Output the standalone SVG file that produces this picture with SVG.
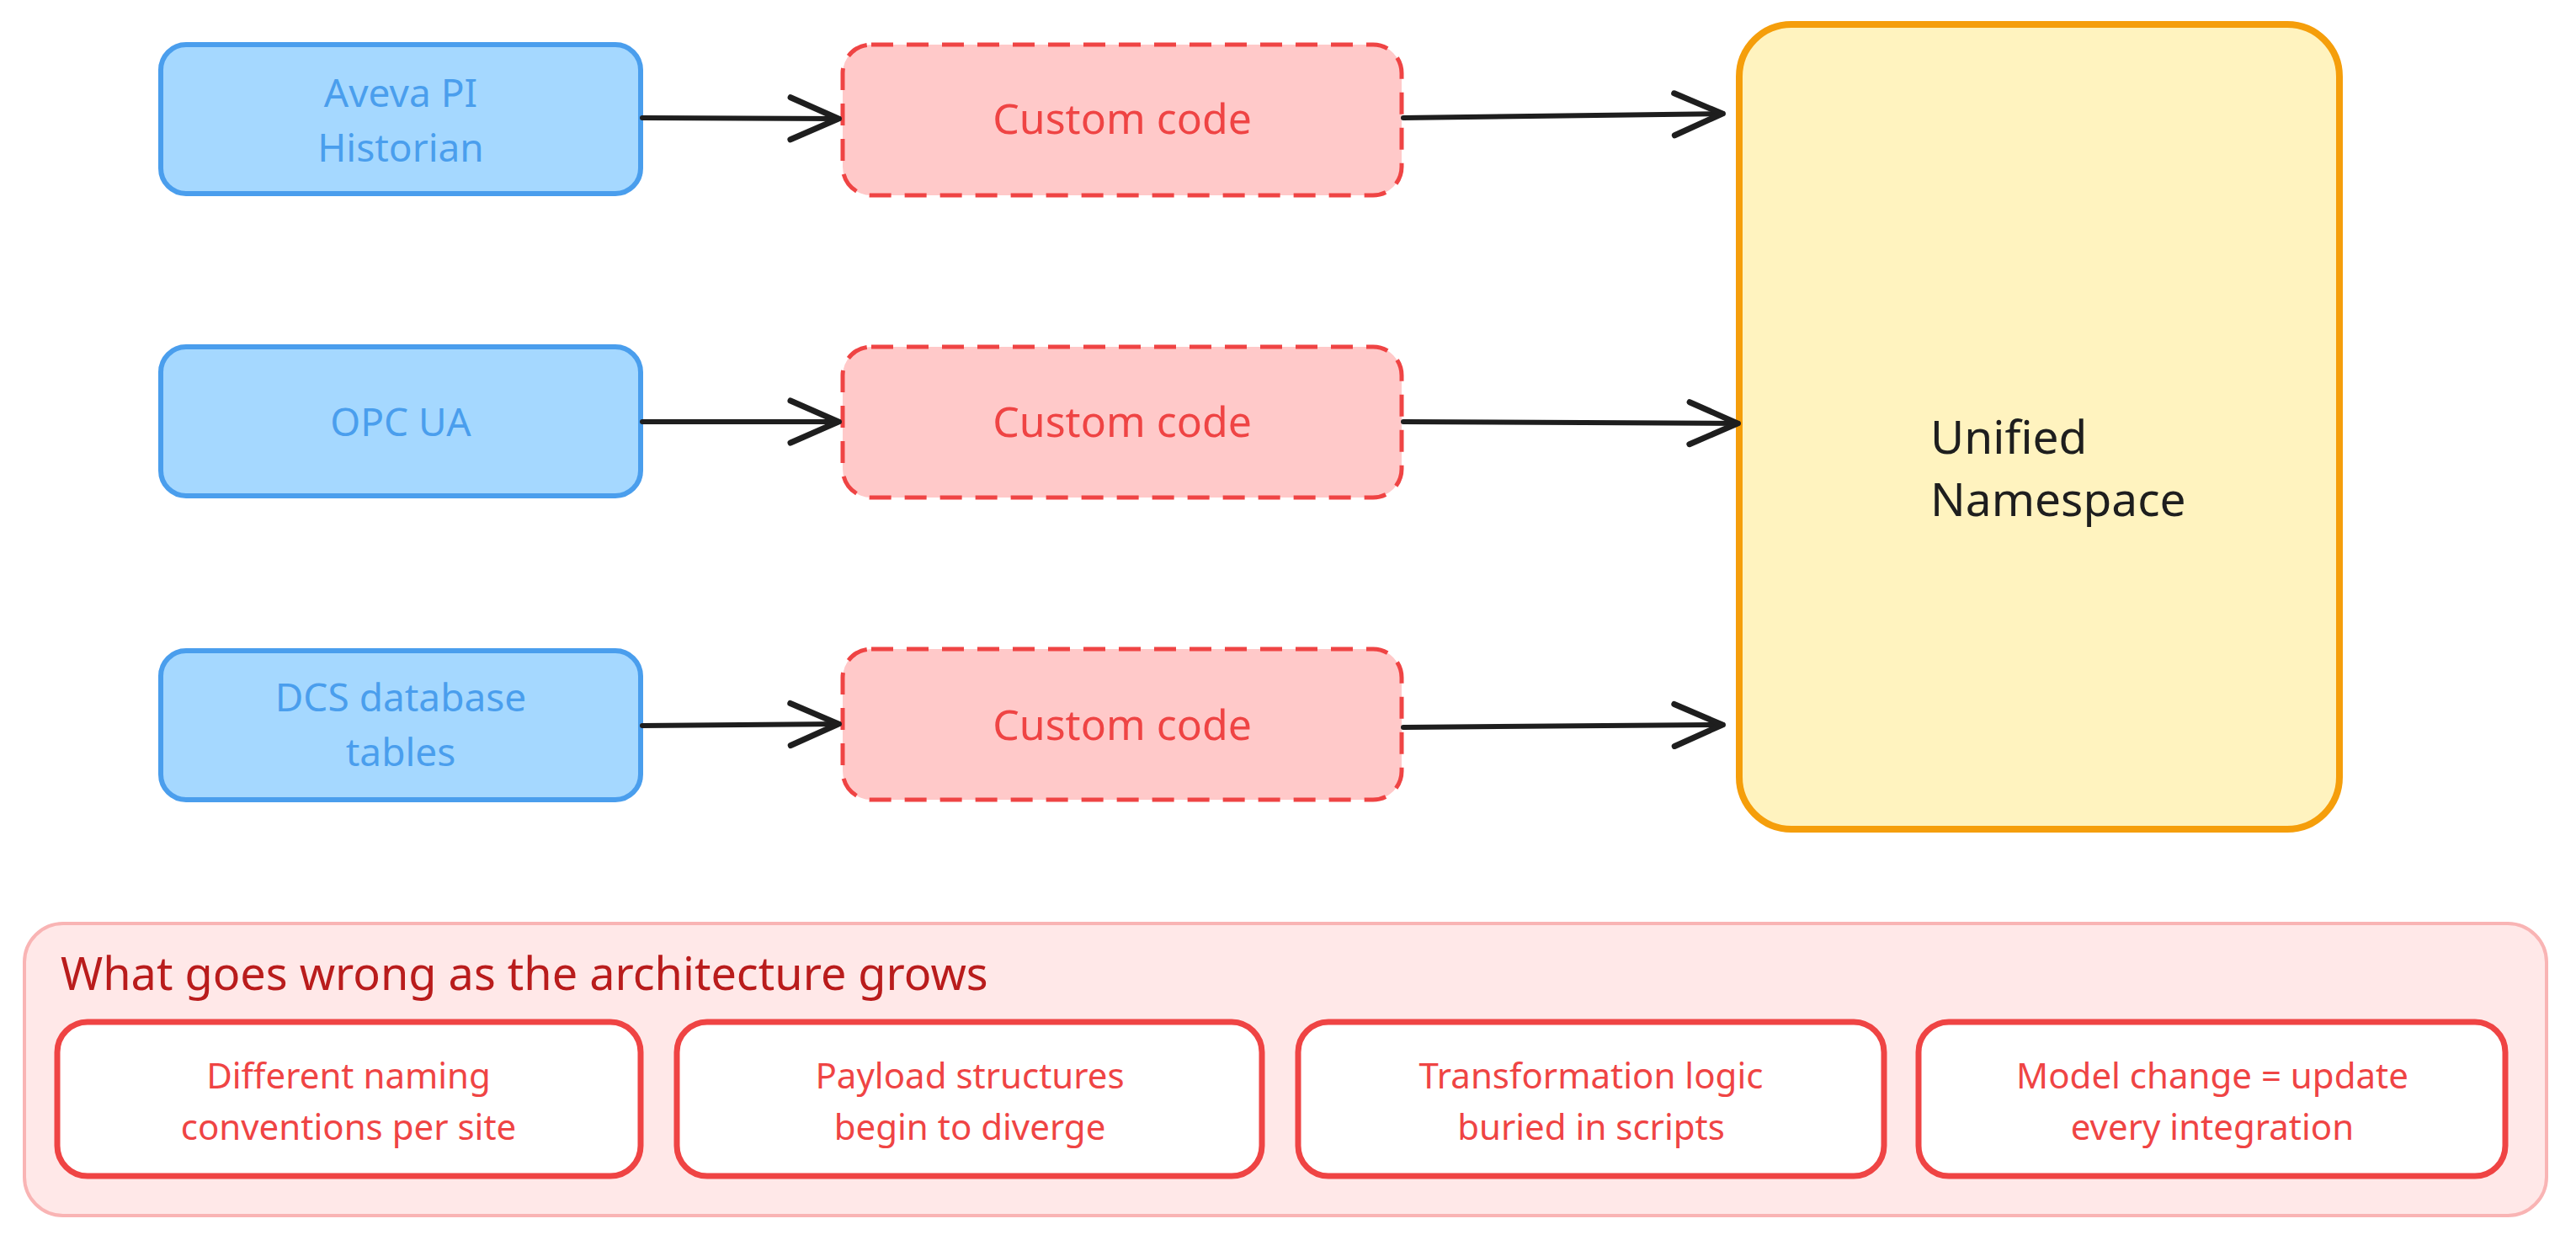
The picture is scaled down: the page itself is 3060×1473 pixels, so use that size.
<svg xmlns="http://www.w3.org/2000/svg" width="3060" height="1473" viewBox="0 0 3060 1473">
<defs>
<style>
text{font-family:"Noto Sans","Liberation Sans",sans-serif;dominant-baseline:central;text-anchor:middle}
.src rect{fill:#a5d8ff;stroke:#4a9eed;stroke-width:6}
.src text{fill:#4a9eed;font-size:46px}
.cc rect{fill:#ffc9c9;stroke:#ef4444;stroke-width:5;stroke-dasharray:26 16}
.cc text{fill:#ef4444;font-size:50px}
.uns rect{fill:#fff3bf;stroke:#f59e0b;stroke-width:8}
.uns text{fill:#1e1e1e;font-size:55px;text-anchor:start}
.issue rect{fill:#ffffff;stroke:#ef4444;stroke-width:7}
.issue text{fill:#ef4444;font-size:42px}
.conn path{fill:none;stroke:#1e1e1e;stroke-width:6;stroke-linecap:round}
</style>
<marker id="ah" viewBox="0 0 64 60" refX="62" refY="30" markerWidth="64" markerHeight="60" markerUnits="userSpaceOnUse" orient="auto">
<path d="M4 5 L61 30 L4 55" fill="none" stroke="#1e1e1e" stroke-width="7" stroke-linecap="round" stroke-linejoin="round"/>
</marker>
</defs>
<rect width="3060" height="1473" fill="#ffffff"/>

<g id="src-aveva" class="src">
<rect x="191" y="53" width="570" height="177" rx="30"/>
<text x="476" y="109">Aveva PI</text>
<text x="476" y="174">Historian</text>
</g>
<g id="src-opcua" class="src">
<rect x="191" y="412" width="570" height="177" rx="30"/>
<text x="476" y="500">OPC UA</text>
</g>
<g id="src-dcs" class="src">
<rect x="191" y="773" width="570" height="177" rx="30"/>
<text x="476" y="827">DCS database</text>
<text x="476" y="892">tables</text>
</g>

<g id="cc-1" class="cc">
<rect x="1001" y="53" width="664" height="179" rx="34"/>
<text x="1333" y="140">Custom code</text>
</g>
<g id="cc-2" class="cc">
<rect x="1001" y="412" width="664" height="179" rx="34"/>
<text x="1333" y="500">Custom code</text>
</g>
<g id="cc-3" class="cc">
<rect x="1001" y="771" width="664" height="179" rx="34"/>
<text x="1333" y="860">Custom code</text>
</g>

<g id="uns" class="uns">
<rect x="2066" y="29" width="713" height="956" rx="62"/>
<text x="2293" y="517">Unified</text>
<text x="2293" y="591">Namespace</text>
</g>

<g id="connectors" class="conn">
<path d="M763 140 L997 141" marker-end="url(#ah)"/>
<path d="M1667 140 L2047 135" marker-end="url(#ah)"/>
<path d="M763 501 L997 501" marker-end="url(#ah)"/>
<path d="M1667 501 L2065 503" marker-end="url(#ah)"/>
<path d="M763 862 L997 860" marker-end="url(#ah)"/>
<path d="M1667 864 L2047 861" marker-end="url(#ah)"/>
</g>

<g id="issues">
<rect x="29" y="1097" width="2996" height="347" rx="46" fill="#ffe8e8" stroke="#f9b4b4" stroke-width="4"/>
<text x="72" y="1155" fill="#b91c1c" font-size="54" style="text-anchor:start">What goes wrong as the architecture grows</text>
</g>
<g id="issue-1" class="issue">
<rect x="68" y="1214" width="693" height="183" rx="36"/>
<text x="414" y="1276">Different naming</text>
<text x="414" y="1337">conventions per site</text>
</g>
<g id="issue-2" class="issue">
<rect x="804" y="1214" width="695" height="183" rx="36"/>
<text x="1152" y="1276">Payload structures</text>
<text x="1152" y="1337">begin to diverge</text>
</g>
<g id="issue-3" class="issue">
<rect x="1542" y="1214" width="696" height="183" rx="36"/>
<text x="1890" y="1276">Transformation logic</text>
<text x="1890" y="1337">buried in scripts</text>
</g>
<g id="issue-4" class="issue">
<rect x="2279" y="1214" width="697" height="183" rx="36"/>
<text x="2628" y="1276">Model change = update</text>
<text x="2628" y="1337">every integration</text>
</g>
</svg>
